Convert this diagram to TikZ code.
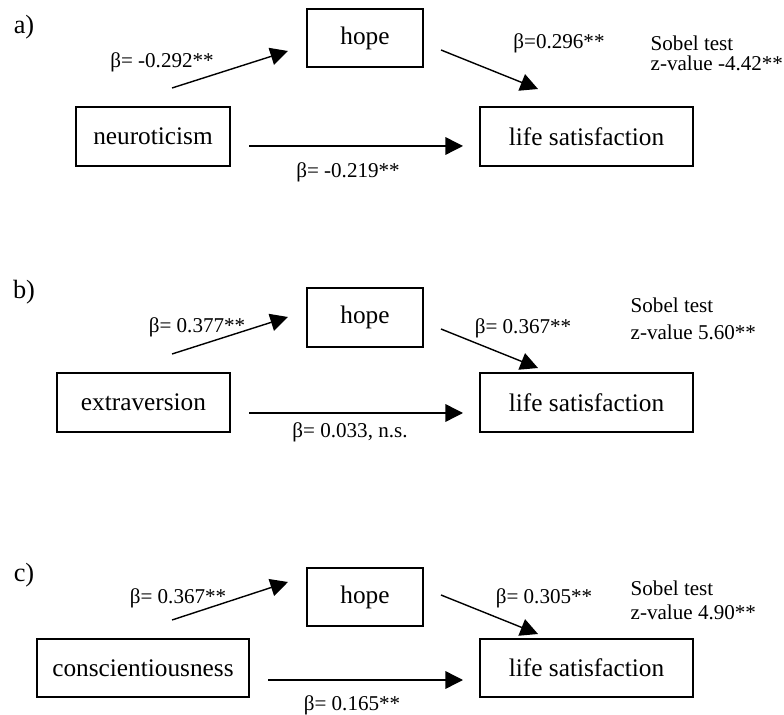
\documentclass[tikz,border=0pt]{standalone}
\usepackage{fontspec}
\setmainfont{Liberation Serif}
\usetikzlibrary{arrows.meta}

\begin{document}
\begin{tikzpicture}[x=0.02cm, y=-0.02cm, line width=0.8pt,
	bx/.style={draw, line width=0.9pt, minimum height=1.17cm, inner sep=0pt,
		font=\fontsize{14.4}{17}\selectfont},
	lbl/.style={inner sep=0pt, font=\fontsize{12}{13}\selectfont},
	arr/.style={-{Triangle[length=10pt,width=10pt]}}]
	\useasboundingbox (0,0) rectangle (784,715);
	% a)
	\node[lbl, font=\fontsize{15}{17}\selectfont] (la) at (24,27) {a)};
	\node[bx, minimum width=2.32cm] (hopeA) at (365,38) {hope};
	\node[bx, minimum width=3.08cm] (neuro) at (153,136.5) {neuroticism};
	\node[bx, minimum width=4.26cm] (lifeA) at (586.5,136.5) {life satisfaction};
	\coordinate (a1) at (172,88);
	\coordinate (a2) at (288,51);
	\coordinate (a3) at (441,50);
	\coordinate (a4) at (538,89);
	\coordinate (a5) at (249,146);
	\coordinate (a6) at (463,146);
	\draw[arr] (a1) -- (a2);
	\draw[arr] (a3) -- (a4);
	\draw[arr] (a5) -- (a6);
	\node[lbl] (ba1) at (162,62) {β= -0.292**};
	\node[lbl] (ba2) at (559,43) {β=0.296**};
	\node[lbl] (ba3) at (348,172) {β= -0.219**};
	\node[lbl, align=left, anchor=west] (sa) at (650,53) {Sobel test\\[-1.7pt]z-value -4.42**};
	% b)
	\node[lbl, font=\fontsize{15}{17}\selectfont] (lb) at (24,292) {b)};
	\node[bx, minimum width=2.32cm] (hopeB) at (365,317.5) {hope};
	\node[bx, minimum width=3.46cm] (extra) at (143.5,402.5) {extraversion};
	\node[bx, minimum width=4.26cm] (lifeB) at (586.5,402.5) {life satisfaction};
	\coordinate (b1) at (172,354);
	\coordinate (b2) at (288,317);
	\coordinate (b3) at (441,329);
	\coordinate (b4) at (538,368);
	\coordinate (b5) at (249,413);
	\coordinate (b6) at (463,413);
	\draw[arr] (b1) -- (b2);
	\draw[arr] (b3) -- (b4);
	\draw[arr] (b5) -- (b6);
	\node[lbl] (bb1) at (197,327) {β= 0.377**};
	\node[lbl] (bb2) at (523,328) {β= 0.367**};
	\node[lbl] (bb3) at (350,432) {β= 0.033, n.s.};
	\node[lbl, align=left, anchor=west] (sb) at (630,318.5) {Sobel test\\[2.3pt]z-value 5.60**};
	% c)
	\node[lbl, font=\fontsize{15}{17}\selectfont] (lc) at (24,575) {c)};
	\node[bx, minimum width=2.32cm] (hopeC) at (365,597) {hope};
	\node[bx, minimum width=4.24cm] (consc) at (143,668) {conscientiousness};
	\node[bx, minimum width=4.26cm] (lifeC) at (586.5,668) {life satisfaction};
	\coordinate (c1) at (172,620);
	\coordinate (c2) at (288,582);
	\coordinate (c3) at (441,595);
	\coordinate (c4) at (538,634);
	\coordinate (c5) at (268,680);
	\coordinate (c6) at (463,680);
	\draw[arr] (c1) -- (c2);
	\draw[arr] (c3) -- (c4);
	\draw[arr] (c5) -- (c6);
	\node[lbl] (bc1) at (178,598) {β= 0.367**};
	\node[lbl] (bc2) at (544,598) {β= 0.305**};
	\node[lbl] (bc3) at (352,705) {β= 0.165**};
	\node[lbl, align=left, anchor=west] (sc) at (630,600) {Sobel test\\[0.6pt]z-value 4.90**};
\end{tikzpicture}
\end{document}
